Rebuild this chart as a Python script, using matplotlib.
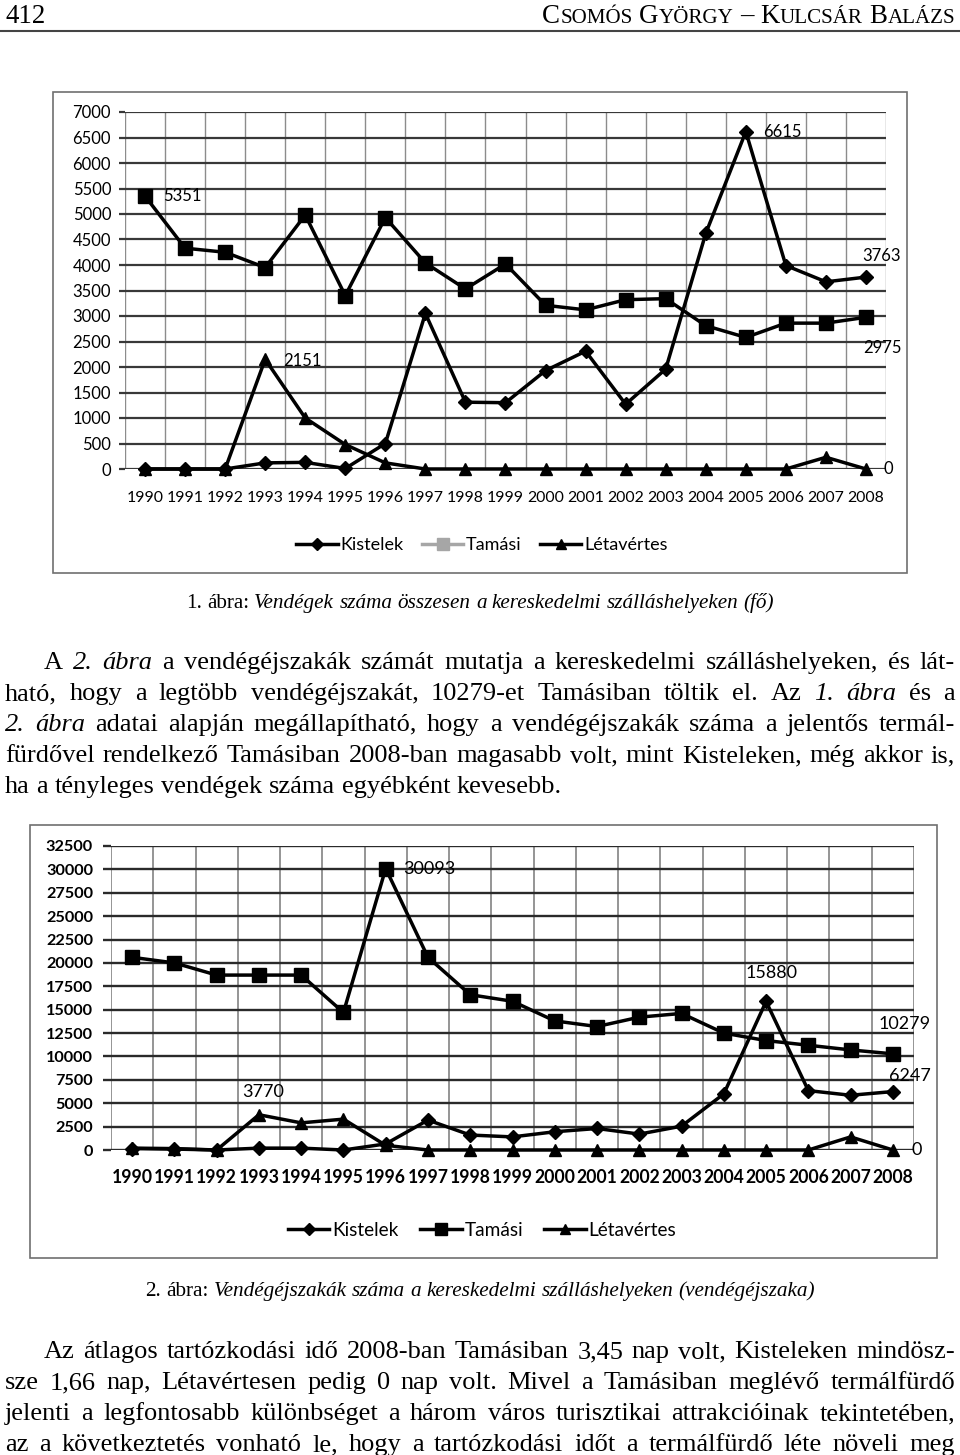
import matplotlib
matplotlib.use('Agg')
import matplotlib.pyplot as plt
from matplotlib.lines import Line2D
from matplotlib.patches import Rectangle

W, H = 960, 1455
SERIF = 'Liberation Serif'
SANS = 'Lato'

years = [str(y) for y in range(1990, 2009)]

# 1. ábra: vendégek száma (fő)
kistelek_vendeg = [0, 0, 0, 120, 130, 10, 500, 3050, 1310, 1300, 1930, 2310, 1270, 1960, 4620, 6615, 3990, 3670, 3763]
tamasi_vendeg = [5351, 4330, 4250, 3950, 4980, 3400, 4930, 4040, 3530, 4020, 3210, 3120, 3320, 3340, 2810, 2580, 2860, 2860, 2975]
letavertes_vendeg = [0, 0, 0, 2151, 1000, 480, 120, 0, 0, 0, 0, 0, 0, 0, 0, 0, 0, 230, 0]

# 2. ábra: vendégéjszakák száma
kistelek_ejszaka = [150, 100, 0, 200, 200, 0, 650, 3200, 1600, 1400, 1950, 2300, 1700, 2550, 6000, 15880, 6350, 5850, 6247]
tamasi_ejszaka = [20600, 20000, 18700, 18700, 18700, 14700, 30093, 20600, 16600, 15900, 13800, 13200, 14200, 14600, 12500, 11700, 11200, 10700, 10279]
letavertes_ejszaka = [200, 150, 0, 3770, 2900, 3300, 500, 0, 0, 0, 0, 0, 0, 0, 0, 0, 0, 1400, 0]

series_names = ['Kistelek', 'Tamási', 'Létavértes']

text1 = [
    "A _2._ _ábra_ a vendégéjszakák számát mutatja a kereskedelmi szálláshelyeken, és lát-",
    "ható, hogy a legtöbb vendégéjszakát, 10279-et Tamásiban töltik el. Az _1._ _ábra_ és a",
    "_2._ _ábra_ adatai alapján megállapítható, hogy a vendégéjszakák száma a jelentős termál-",
    "fürdővel rendelkező Tamásiban 2008-ban magasabb volt, mint Kisteleken, még akkor is,",
    "ha a tényleges vendégek száma egyébként kevesebb.",
]
text2 = [
    "Az átlagos tartózkodási idő 2008-ban Tamásiban 3,45 nap volt, Kisteleken mindösz-",
    "sze 1,66 nap, Létavértesen pedig 0 nap volt. Mivel a Tamásiban meglévő termálfürdő",
    "jelenti a legfontosabb különbséget a három város turisztikai attrakcióinak tekintetében,",
    "az a következtetés vonható le, hogy a tartózkodási időt a termálfürdő léte növeli meg",
]
caption1 = ("1. ábra:", "Vendégek száma összesen a kereskedelmi szálláshelyeken (fő)")
caption2 = ("2. ábra:", "Vendégéjszakák száma a kereskedelmi szálláshelyeken (vendégéjszaka)")

fig = plt.figure(figsize=(W / 100, H / 100), dpi=100)
renderer = fig.canvas.get_renderer()


def fx(x):
    return x / W


def fy(y):
    return 1 - y / H


def width(s, size, style='normal'):
    t = fig.text(0, 0, s, fontsize=size, family=SERIF, fontstyle=style)
    w = t.get_window_extent(renderer).width
    t.remove()
    return w


def put_line(words, x0, x1, y, size, mode='justify'):
    items = [(w, st, width(w, size, st)) for w, st in words]
    space = width('a a', size) - width('aa', size)
    total = sum(i[2] for i in items)
    if mode == 'justify':
        gap = (x1 - x0 - total) / (len(items) - 1)
        x = x0
    else:
        gap = space
        full = total + space * (len(items) - 1)
        x = x0 if mode == 'left' else (x0 + x1 - full) / 2
    for w, st, wd in items:
        fig.text(fx(x), fy(y), w, fontsize=size, family=SERIF, fontstyle=st, va='baseline')
        x += wd + gap


def parse(line):
    out = []
    for w in line.split(' '):
        if w.startswith('_') and w.endswith('_'):
            out.append((w[1:-1], 'italic'))
        else:
            out.append((w, 'normal'))
    return out


def paragraph(lines, first_y, step, size):
    for i, line in enumerate(lines):
        x0 = 44 if i == 0 else 5
        mode = 'left' if (i == len(lines) - 1 and line.endswith('.')) else 'justify'
        put_line(parse(line), x0, 955, first_y + i * step, size, mode)


def caption(cap, y, size):
    words = [(w, 'normal') for w in cap[0].split()] + [(w, 'italic') for w in cap[1].split()]
    put_line(words, 0, 960, y, size, mode='center')


# header
fig.text(fx(5), fy(23), '412', fontsize=19.4, family=SERIF, va='baseline')
head = [[('C', 19.4), ('SOMÓS', 15.1)], [('G', 19.4), ('YÖRGY', 15.1)], [('–', 19.4)],
        [('K', 19.4), ('ULCSÁR', 15.1)], [('B', 19.4), ('ALÁZS', 15.1)]]
sp = width('a a', 19.4) - width('aa', 19.4)
total = sum(width(t, s) for word in head for t, s in word) + sp * (len(head) - 1)
x = 955 - total
for word in head:
    for t, s in word:
        fig.text(fx(x), fy(23), t, fontsize=s, family=SERIF, va='baseline')
        x += width(t, s)
    x += sp
fig.add_artist(Line2D([0, 1], [fy(31), fy(31)], transform=fig.transFigure, color='#444444', lw=1.5))


def frame(l, t, r, b):
    fig.add_artist(Rectangle((fx(l), fy(b)), (r - l) / W, (b - t) / H, transform=fig.transFigure,
                             fill=False, ec='#707070', lw=1.2))


def make_axes(l, t, r, b, ymax, ystep, ysize, yweight, xsize, xweight, xpad, ypad, tlen,
              hcol, hlw, vcol, vlw):
    ax = fig.add_axes([l / W, 1 - b / H, (r - l) / W, (b - t) / H])
    ax.set_xlim(-0.5, len(years) - 0.5)
    ax.set_ylim(0, ymax)
    ax.set_xticks(range(len(years)))
    ax.set_xticklabels(years, family=SANS, fontsize=xsize, fontweight=xweight)
    ax.set_xticks([i - 0.5 for i in range(len(years) + 1)], minor=True)
    yt = list(range(0, ymax + 1, ystep))
    ax.set_yticks(yt)
    ax.set_yticklabels([str(v) for v in yt], family=SANS, fontsize=ysize, fontweight=yweight)
    ax.grid(axis='y', which='major', color=hcol, lw=hlw)
    ax.grid(axis='x', which='minor', color=vcol, lw=vlw)
    ax.tick_params(axis='x', which='both', length=0, pad=xpad)
    ax.tick_params(axis='y', length=tlen, color=hcol, width=hlw, pad=ypad)
    for s in ax.spines.values():
        s.set_visible(False)
    ax.set_axisbelow(True)
    return ax


def draw_series(ax, data, ms):
    x = range(len(years))
    for vals, name, mk, m in zip(data, series_names, ['D', 's', '^'], ms):
        ax.plot(x, vals, color='black', lw=2.5, marker=mk, ms=m, label=name, clip_on=False)


def tag(ax, vals, i, dx, dy, size, ha='left'):
    ax.annotate(str(vals[i]), (i, vals[i]), xytext=(dx, dy), textcoords='offset pixels',
                ha=ha, va='center', fontsize=size, family=SANS, annotation_clip=False)


# ---- 1. ábra
frame(53, 92, 907, 573)
ax1 = make_axes(125, 112, 886, 469, 7000, 500, 12, 'normal', 11.4, 'normal', 16, 6, 4,
                '#383838', 1.6, '#8c8c8c', 1.0)
draw_series(ax1, [kistelek_vendeg, tamasi_vendeg, letavertes_vendeg], [7.5, 9.5, 9])
tag(ax1, tamasi_vendeg, 0, 18, 0, 12)
tag(ax1, letavertes_vendeg, 3, 18, -2, 12)
tag(ax1, kistelek_vendeg, 15, 17, 0, 12)
tag(ax1, kistelek_vendeg, 18, 16, 21, 12, ha='center')
tag(ax1, tamasi_vendeg, 18, 16, -31, 12, ha='center')
tag(ax1, letavertes_vendeg, 18, 22, 0, 12, ha='center')
leg1 = ax1.legend(loc='center', bbox_to_anchor=(fx(482), fy(545)), bbox_transform=fig.transFigure,
                  ncol=3, frameon=False, prop={'family': SANS, 'size': 13}, handlelength=2.3,
                  handletextpad=0.15, columnspacing=1.0, borderpad=0, markerscale=0.85)
h = leg1.legend_handles[1]
h.set_color('#a6a6a6')
h.set_markerfacecolor('#a6a6a6')
h.set_markeredgecolor('#a6a6a6')

caption(caption1, 608, 15.2)
paragraph(text1, 669, 31, 19)

# ---- 2. ábra
frame(30, 825, 937, 1258)
ax2 = make_axes(111, 846, 914, 1150, 32500, 2500, 11.7, 'bold', 12.7, 'bold', 14, 7, 6,
                '#2a2a2a', 1.7, '#8c8c8c', 1.3)
draw_series(ax2, [kistelek_ejszaka, tamasi_ejszaka, letavertes_ejszaka], [7.5, 10, 9])
tag(ax2, tamasi_ejszaka, 6, 17, 0, 13)
tag(ax2, letavertes_ejszaka, 3, 4, 23, 13, ha='center')
tag(ax2, kistelek_ejszaka, 15, 5, 28, 13, ha='center')
tag(ax2, tamasi_ejszaka, 18, 12, 30, 13, ha='center')
tag(ax2, kistelek_ejszaka, 18, 17, 16, 13, ha='center')
tag(ax2, letavertes_ejszaka, 18, 24, 0, 13, ha='center')
ax2.legend(loc='center', bbox_to_anchor=(fx(482), fy(1230)), bbox_transform=fig.transFigure,
           ncol=3, frameon=False, prop={'family': SANS, 'size': 13.7}, handlelength=2.2,
           handletextpad=0.15, columnspacing=1.1, borderpad=0, markerscale=0.85)

caption(caption2, 1296, 15.3)
paragraph(text2, 1358, 31, 19)

fig.savefig('out.png', dpi=100)
